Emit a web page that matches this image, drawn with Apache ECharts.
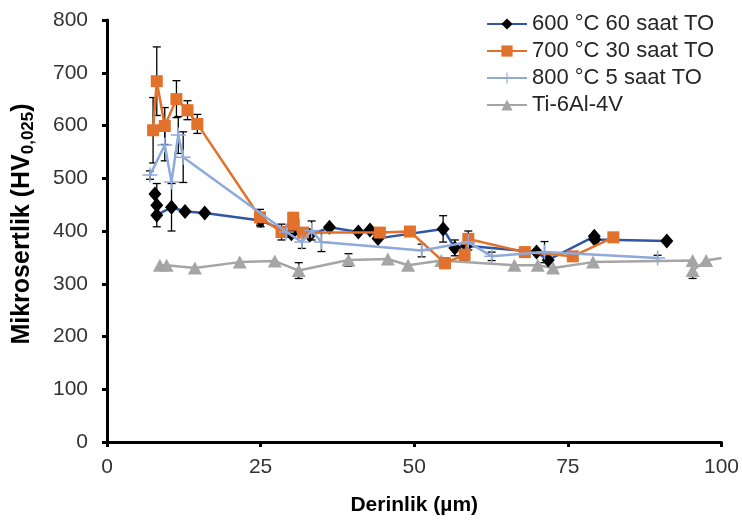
<!DOCTYPE html>
<html><head><meta charset="utf-8">
<script src="https://cdn.jsdelivr.net/npm/echarts@6/dist/echarts.min.js"></script>
<style>html,body{margin:0;padding:0;background:#fff}#c{width:742px;height:521px}</style>
</head><body><div id="c"></div>
<script>
var names = ['600 °C 60 saat TO','700 °C 30 saat TO','800 °C 5 saat TO','Ti-6Al-4V'];
var xTicks = [0,25,50,75,100];
var yTicks = [0,100,200,300,400,500,600,700,800];

var x600 = [7.8,8.1,8.1,10.5,12.7,15.9,25.0,30.0,33.0,36.2,40.9,42.8,44.1,54.7,56.6,58.5,69.9,71.8,79.3,79.4,91.1];
var y600 = [470,449,430,445,437,434,420,395,392,407,398,402,386,404,368,372,360,345,390,384,381];
var e600 = [0,41,0,45,0,0,12,0,0,0,0,0,0,25,15,0,0,0,0,0,0];

var x700 = [7.5,8.1,9.4,11.3,13.1,14.7,24.9,28.4,30.3,30.4,31.9,44.4,49.3,55.0,58.2,58.8,68.0,75.8,82.4];
var y700 = [591,684,599,650,629,603,426,398,425,412,397,397,399,339,355,385,360,352,388];
var e700 = [62,65,35,35,18,18,15,15,10,12,0,0,0,10,10,15,0,0,0];

var x800 = [7.0,9.4,10.5,11.6,12.4,29.2,31.7,33.3,34.9,51.2,58.8,62.6,71.2,89.6];
var y800 = [506,563,493,582,540,398,379,401,379,363,379,352,360,349];
var e800 = [8,30,0,35,48,10,12,18,18,12,15,8,20,5];

var xTi = [8.6,9.7,14.3,21.6,27.3,31.2,39.3,45.7,49.0,54.4,66.3,70.1,72.6,79.1,95.3,95.3,97.5,100];
var yTi = [335,335,330,341,343,325,345,347,335,344,335,335,330,341,344,325,344,349];
var eTi = [0,0,0,0,0,15,12,0,0,0,0,0,0,0,0,15,0,0];

function pts(xs,ys){return xs.map(function(x,i){return [x,ys[i]];});}
function errs(xs,ys,es){var o=[];xs.forEach(function(x,i){if(es[i]>0)o.push([x,ys[i]-es[i],ys[i]+es[i]]);});return o;}

var cross = 'path://M4.5,0H5.5V4.5H10V5.5H5.5V10H4.5V5.5H0V4.5H4.5Z';
var FONT = 'Liberation Sans, Arial, sans-serif';

function errSeries(data){
  return {type:'custom',silent:true,z:1,
    renderItem:function(params,api){
      var lo=api.coord([api.value(0),api.value(1)]);
      var hi=api.coord([api.value(0),api.value(2)]);
      var w=4;
      var st={stroke:'#000',lineWidth:1.3};
      return {type:'group',children:[
        {type:'line',shape:{x1:lo[0],y1:lo[1],x2:hi[0],y2:hi[1]},style:st},
        {type:'line',shape:{x1:lo[0]-w,y1:lo[1],x2:lo[0]+w,y2:lo[1]},style:st},
        {type:'line',shape:{x1:hi[0]-w,y1:hi[1],x2:hi[0]+w,y2:hi[1]},style:st}
      ]};
    },
    encode:{x:0,y:[1,2]},data:data};
}

var tiData = pts(xTi,yTi);
tiData[tiData.length-1] = {value:tiData[tiData.length-1],symbol:'none'};

var chart = echarts.init(document.getElementById('c'));
chart.setOption({
  animation:false,
  textStyle:{fontFamily:FONT},
  grid:{left:107,right:20,top:20,bottom:79},
  legend:{
    orient:'vertical',left:481,top:8,itemWidth:40,itemHeight:14,itemGap:5,
    textStyle:{fontSize:22,lineHeight:22,color:'#262626',fontFamily:FONT},
    data:names
  },
  xAxis:{
    type:'value',min:0,max:100,interval:25,
    name:'Derinlik (µm)',nameLocation:'middle',nameGap:53,
    nameTextStyle:{fontSize:21,fontWeight:'bold',color:'#000',fontFamily:FONT},
    axisLine:{lineStyle:{color:'#000',width:3}},
    axisTick:{show:true,length:5,lineStyle:{color:'#000',width:3}},
    axisLabel:{fontSize:21,color:'#333',margin:15},
    splitLine:{show:false}
  },
  yAxis:{
    type:'value',min:0,max:800,interval:100,
    name:'{a|Mikrosertlik (HV}{s|0,025}{a|)}',nameLocation:'middle',nameGap:70,nameRotate:90,
    nameTextStyle:{padding:[0,0,0,14],rich:{a:{fontSize:25,fontWeight:'bold',color:'#000',fontFamily:FONT},s:{fontSize:17,fontWeight:'bold',color:'#000',fontFamily:FONT,verticalAlign:'bottom',padding:[12,0,0,0]}}},
    axisLine:{show:true,lineStyle:{color:'#000',width:3}},
    axisTick:{show:true,length:5,lineStyle:{color:'#000',width:3}},
    axisLabel:{fontSize:21,color:'#333',margin:19},
    splitLine:{show:false}
  },
  series:[
    errSeries(errs(x600,y600,e600)),
    errSeries(errs(x700,y700,e700)),
    errSeries(errs(x800,y800,e800)),
    errSeries(errs(xTi,yTi,eTi)),
    {name:names[0],type:'line',data:pts(x600,y600),z:3,
     lineStyle:{color:'#2F55A4',width:2.5},itemStyle:{color:'#000'},
     symbol:'diamond',symbolSize:[13,15],showAllSymbol:true},
    {name:names[1],type:'line',data:pts(x700,y700),z:4,
     lineStyle:{color:'#E1712B',width:2.5},itemStyle:{color:'#E1712B'},
     symbol:'rect',symbolSize:12,showAllSymbol:true},
    {name:names[2],type:'line',data:pts(x800,y800),z:5,
     lineStyle:{color:'#8EA9DB',width:2.5},itemStyle:{color:'#8EA9DB'},
     symbol:cross,symbolSize:15,showAllSymbol:true},
    {name:names[3],type:'line',data:tiData,z:2,
     lineStyle:{color:'#A5A5A5',width:2.5},itemStyle:{color:'#A5A5A5'},
     symbol:'triangle',symbolSize:[14,13],showAllSymbol:true}
  ]
});
</script></body></html>
